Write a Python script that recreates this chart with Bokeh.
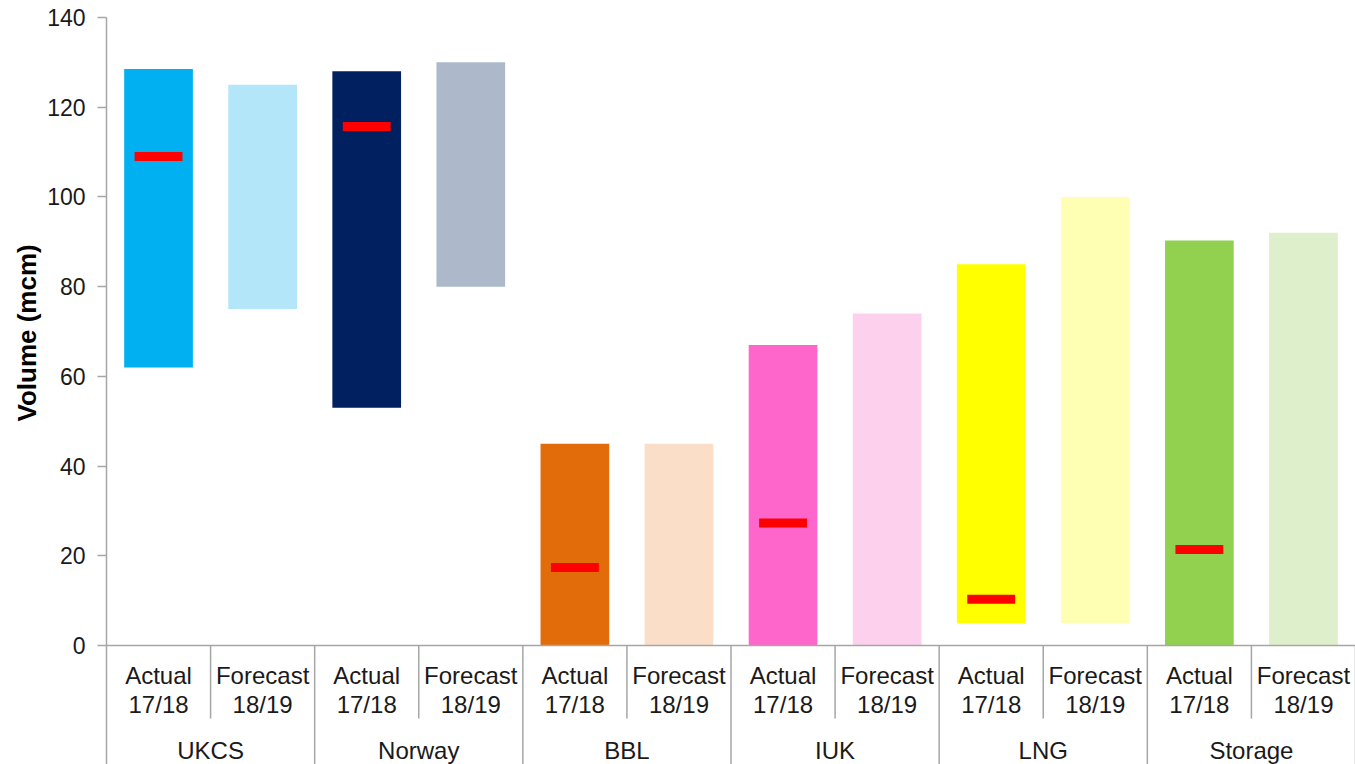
from bokeh.plotting import figure
from bokeh.models import Range1d, FixedTicker, ColumnDataSource, Title
from bokeh.core.properties import value
from bokeh.embed import file_html
from bokeh.resources import INLINE

# ---- data ----
groups = ["UKCS", "Norway", "BBL", "IUK", "LNG", "Storage"]
sub_top = ["Actual", "Forecast"]
sub_bottom = ["17/18", "18/19"]
bar_bottom = [62, 75, 53, 80, 0, 0, 0, 0, 5, 5, 0, 0]
bar_top = [128.5, 125, 128, 130, 45, 45, 67, 74, 85, 100, 90.3, 92]
marker_values = [109, 115.7, 17.4, 27.3, 10.3, 21.4]  # on the "Actual 17/18" bars
bar_colors = ["#00B0F0", "#B3E6F8", "#002060", "#ADB9CA", "#E36C0A", "#FBDEC7",
              "#FF66CC", "#FDD0EE", "#FFFF00", "#FFFFB3", "#92D050", "#DEF0CB"]
y_ticks = [0, 20, 40, 60, 80, 100, 120, 140]
y_title = "Volume (mcm)"

FONT = "Liberation Sans"
AXIS_GRAY = "#A6A6A6"

n = len(groups) * 2
x_centers = [i + 0.5 for i in range(n)]

# frame: top at px 17 (140), 0 at px 645 -> 4.4857 px per unit; bottom at px 764
y_min = 140 - (764 - 17) / (628 / 140)
p = figure(width=1355, height=764, output_backend="svg", toolbar_location=None,
           x_range=Range1d(0, n), y_range=Range1d(y_min, 140),
           x_axis_location=None, min_border_left=106, min_border_right=0,
           min_border_top=17, min_border_bottom=0)
p.outline_line_color = None
p.xgrid.visible = False
p.ygrid.visible = False
p.background_fill_color = "white"
p.border_fill_color = "white"

# y axis
ax = p.yaxis[0]
ax.ticker = FixedTicker(ticks=y_ticks)
ax.axis_line_color = AXIS_GRAY
ax.axis_line_width = 1.5
ax.major_tick_line_color = AXIS_GRAY
ax.major_tick_line_width = 1.5
ax.major_tick_out = 9
ax.major_tick_in = 0
ax.minor_tick_line_color = None
ax.major_label_text_font = FONT
ax.major_label_text_font_size = "23px"
ax.major_label_text_color = "#1a1a1a"
ax.major_label_standoff = 12

# y-axis title as a left-side title, placed so it sits centred on 0..140
p.add_layout(Title(text=y_title, align="left", offset=343, standoff=6,
                   text_font=FONT, text_font_size="26px", text_font_style="bold",
                   text_color="#000000"), "left")

# bars
src = ColumnDataSource(dict(x=x_centers, top=bar_top, bottom=bar_bottom, color=bar_colors))
p.vbar(x="x", top="top", bottom="bottom", width=0.66, fill_color="color",
       line_color=None, source=src)

# red markers on actual bars
mx = [x_centers[2 * g] for g in range(len(groups))]
p.rect(x=mx, y=marker_values, width=0.46, height=2.0, fill_color="#FF0000", line_color=None)

# baseline at 0
p.segment(x0=[0], y0=[0], x1=[n], y1=[0], line_color=AXIS_GRAY, line_width=1.5)

# category separators
inner_x = [2 * g + 1 for g in range(len(groups))]
p.segment(x0=inner_x, y0=[0] * len(inner_x), x1=inner_x, y1=[-16.3] * len(inner_x),
          line_color=AXIS_GRAY, line_width=1.5)
outer_x = [2 * g for g in range(1, len(groups) + 1)]
p.segment(x0=outer_x, y0=[0] * len(outer_x), x1=outer_x, y1=[y_min] * len(outer_x),
          line_color=AXIS_GRAY, line_width=1.5)

# category labels
p.text(x=x_centers, y=[-6.7] * n, text=[sub_top[i % 2] for i in range(n)],
       text_font=value(FONT), text_font_size="24px", text_align="center",
       text_baseline="middle", text_color="#1a1a1a")
p.text(x=x_centers, y=[-13.2] * n, text=[sub_bottom[i % 2] for i in range(n)],
       text_font=value(FONT), text_font_size="24px", text_align="center",
       text_baseline="middle", text_color="#1a1a1a")
gx = [2 * g + 1 for g in range(len(groups))]
p.text(x=gx, y=[-23.3] * len(groups), text=groups,
       text_font=value(FONT), text_font_size="24px", text_align="center",
       text_baseline="middle", text_color="#1a1a1a")

open("out.html", "w").write(file_html(p, INLINE))
